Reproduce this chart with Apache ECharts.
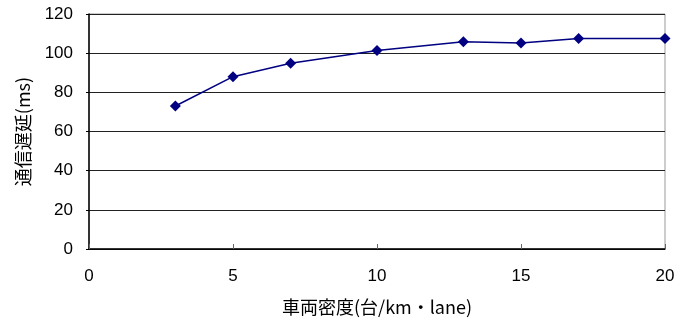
<!DOCTYPE html>
<html>
<head>
<meta charset="utf-8">
<script src="https://cdn.jsdelivr.net/npm/echarts@6/dist/echarts.min.js"></script>
<style>
  html, body { margin: 0; padding: 0; background: #fff; }
  #chart { width: 687px; height: 321px; }
</style>
</head>
<body>
<div id="chart"></div>
<script>
// Vehicle density (veh/km·lane) vs communication delay (ms)
const densities = [3, 5, 7, 10, 13, 15, 17, 20];
const delays = [73, 88, 94.8, 101.4, 105.8, 105.2, 107.5, 107.5];

const xName = '車両密度(台/km・lane)';
const yName = '通信遅延(ms)';

const font = '"Liberation Sans", "Noto Sans CJK JP", sans-serif';
const jpFont = '"Noto Sans CJK JP", sans-serif';

const chart = echarts.init(document.getElementById('chart'));
chart.setOption({
  animation: false,
  grid: {
    left: 89, right: 22, top: 14, bottom: 70,
    show: true, borderColor: '#999', borderWidth: 1
  },
  xAxis: {
    type: 'value', min: 0, max: 20, interval: 5,
    name: xName, nameLocation: 'middle', nameGap: 49,
    nameTextStyle: { fontFamily: jpFont, fontSize: 18, color: '#000' },
    axisLine: { show: true, onZero: false, lineStyle: { color: '#000', width: 1.5 } },
    axisTick: { show: true, inside: true, length: 5, lineStyle: { color: '#666' } },
    axisLabel: { fontFamily: font, fontSize: 17, color: '#000', margin: 19 },
    splitLine: { show: false }
  },
  yAxis: {
    type: 'value', min: 0, max: 120, interval: 20,
    name: yName, nameLocation: 'middle', nameGap: 57,
    nameTextStyle: { fontFamily: jpFont, fontSize: 18, color: '#000' },
    axisLine: { show: true, lineStyle: { color: '#000', width: 1.5 } },
    axisTick: { show: true, inside: false, length: 3, lineStyle: { color: '#000' } },
    axisLabel: { fontFamily: font, fontSize: 17, color: '#000', margin: 16 },
    splitLine: { show: true, lineStyle: { color: '#222', width: 1 } }
  },
  series: [{
    type: 'line',
    data: densities.map((d, i) => [d, delays[i]]),
    symbol: 'diamond', symbolSize: 11,
    itemStyle: { color: '#000080' },
    lineStyle: { color: '#000080', width: 1.5 },
    z: 5
  }]
});
</script>
</body>
</html>
